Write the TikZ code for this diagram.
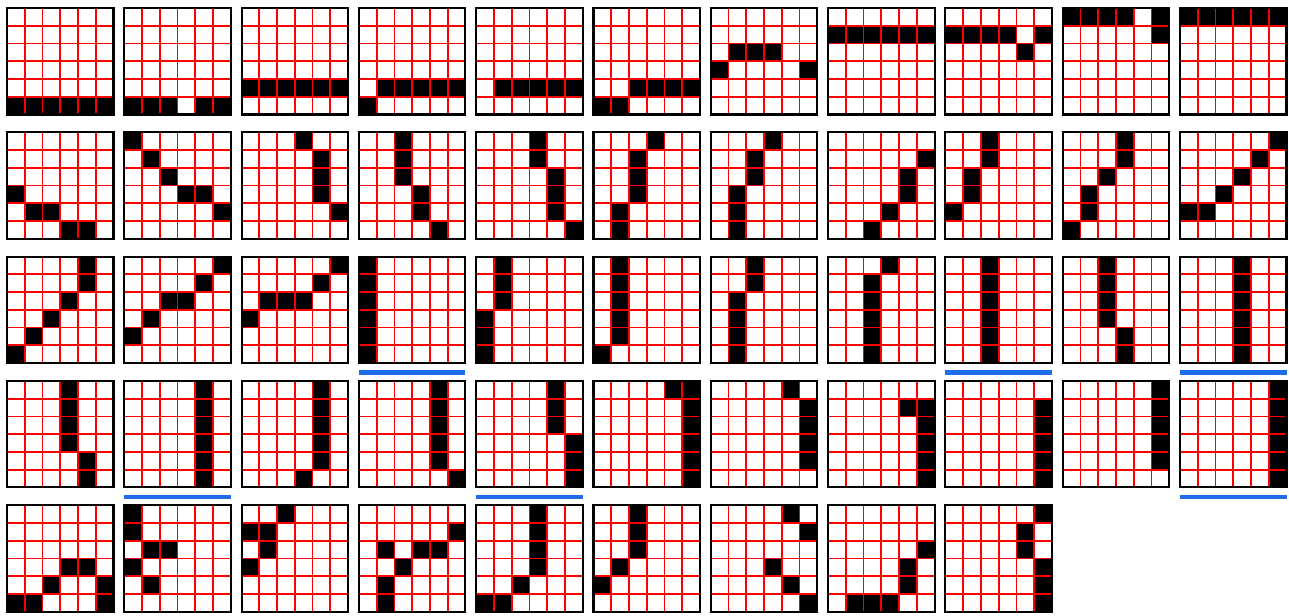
\documentclass[tikz,border=0pt]{standalone}
\definecolor{markblue}{RGB}{30,110,235}
\tikzset{
  pixon/.style={fill=black},
  cellgrid/.style={draw=red, line width=1.3pt},
  tileframe/.style={draw=black, line width=1.6pt},
  underbar/.style={draw=markblue, line width=3.4pt}
}
\begin{document}
\begin{tikzpicture}[x=0.75pt, y=-0.75pt]
\useasboundingbox (0,0) rectangle (1289,616);

% tile column / tile row / black pixels (col/row) / underline
\foreach \c/\r/\cells/\u in {
  0/0/{0/5,1/5,2/5,3/5,4/5,5/5}/0,
  1/0/{0/5,1/5,2/5,4/5,5/5}/0,
  2/0/{0/4,1/4,2/4,3/4,4/4,5/4}/0,
  3/0/{1/4,2/4,3/4,4/4,5/4,0/5}/0,
  4/0/{1/4,2/4,3/4,4/4,5/4}/0,
  5/0/{2/4,3/4,4/4,5/4,0/5,1/5}/0,
  6/0/{1/2,2/2,3/2,0/3,5/3}/0,
  7/0/{0/1,1/1,2/1,3/1,4/1,5/1}/0,
  8/0/{0/1,1/1,2/1,3/1,5/1,4/2}/0,
  9/0/{0/0,1/0,2/0,3/0,5/0,5/1}/0,
  10/0/{0/0,1/0,2/0,3/0,4/0,5/0}/0,
  %
  0/1/{0/3,1/4,2/4,3/5,4/5}/0,
  1/1/{0/0,1/1,2/2,3/3,4/3,5/4}/0,
  2/1/{3/0,4/1,4/2,4/3,5/4}/0,
  3/1/{2/0,2/1,2/2,3/3,3/4,4/5}/0,
  4/1/{3/0,3/1,4/2,4/3,4/4,5/5}/0,
  5/1/{3/0,2/1,2/2,2/3,1/4,1/5}/0,
  6/1/{3/0,2/1,2/2,1/3,1/4,1/5}/0,
  7/1/{5/1,4/2,4/3,3/4,2/5}/0,
  8/1/{2/0,2/1,1/2,1/3,0/4}/0,
  9/1/{3/0,3/1,2/2,1/3,1/4,0/5}/0,
  10/1/{5/0,4/1,3/2,2/3,0/4,1/4}/0,
  %
  0/2/{4/0,4/1,3/2,2/3,1/4,0/5}/0,
  1/2/{5/0,4/1,2/2,3/2,1/3,0/4}/0,
  2/2/{5/0,4/1,1/2,2/2,3/2,0/3}/0,
  3/2/{0/0,0/1,0/2,0/3,0/4,0/5}/1,
  4/2/{1/0,1/1,1/2,0/3,0/4,0/5}/0,
  5/2/{1/0,1/1,1/2,1/3,1/4,0/5}/0,
  6/2/{2/0,2/1,1/2,1/3,1/4,1/5}/0,
  7/2/{3/0,2/1,2/2,2/3,2/4,2/5}/0,
  8/2/{2/0,2/1,2/2,2/3,2/4,2/5}/1,
  9/2/{2/0,2/1,2/2,2/3,3/4,3/5}/0,
  10/2/{3/0,3/1,3/2,3/3,3/4,3/5}/1,
  %
  0/3/{3/0,3/1,3/2,3/3,4/4,4/5}/0,
  1/3/{4/0,4/1,4/2,4/3,4/4,4/5}/1,
  2/3/{4/0,4/1,4/2,4/3,4/4,3/5}/0,
  3/3/{4/0,4/1,4/2,4/3,4/4,5/5}/0,
  4/3/{4/0,4/1,4/2,5/3,5/4,5/5}/1,
  5/3/{4/0,5/0,5/1,5/2,5/3,5/4,5/5}/0,
  6/3/{4/0,5/1,5/2,5/3,5/4}/0,
  7/3/{4/1,5/1,5/2,5/3,5/4,5/5}/0,
  8/3/{5/1,5/2,5/3,5/4,5/5}/0,
  9/3/{5/0,5/1,5/2,5/3,5/4}/0,
  10/3/{5/0,5/1,5/2,5/3,5/4,5/5}/1,
  %
  0/4/{3/3,4/3,2/4,5/4,0/5,1/5,5/5}/0,
  1/4/{0/0,0/1,1/2,2/2,0/3,1/4}/0,
  2/4/{2/0,0/1,1/1,1/2,0/3}/0,
  3/4/{5/1,1/2,3/2,4/2,2/3,1/4,1/5}/0,
  4/4/{3/0,3/1,3/2,3/3,2/4,0/5,1/5}/0,
  5/4/{2/0,2/1,2/2,1/3,0/4}/0,
  6/4/{4/0,5/1,3/3,4/4,5/5}/0,
  7/4/{5/2,4/3,4/4,1/5,2/5,3/5}/0,
  8/4/{5/0,4/1,4/2,5/3,5/4,5/5}/0}{
  \pgfmathsetmacro{\tx}{7+\c*117.3}
  \pgfmathsetmacro{\ty}{8+\r*124.3}
  \fill[white] (\tx,\ty) rectangle ++(106.5,106.5);
  \foreach \a/\b in \cells
    \fill[pixon] (\tx+\a*17.75,\ty+\b*17.75) rectangle ++(17.75,17.75);
  \foreach \k in {0,...,6}{
    \draw[cellgrid] (\tx+\k*17.75,\ty) -- ++(0,106.5);
    \draw[cellgrid] (\tx,\ty+\k*17.75) -- ++(106.5,0);
  }
  \draw[tileframe] (\tx,\ty) rectangle ++(106.5,106.5);
  \ifnum\u=1 \draw[underbar] (\tx,\ty+116) -- ++(106.5,0); \fi
}

\end{tikzpicture}
\end{document}
